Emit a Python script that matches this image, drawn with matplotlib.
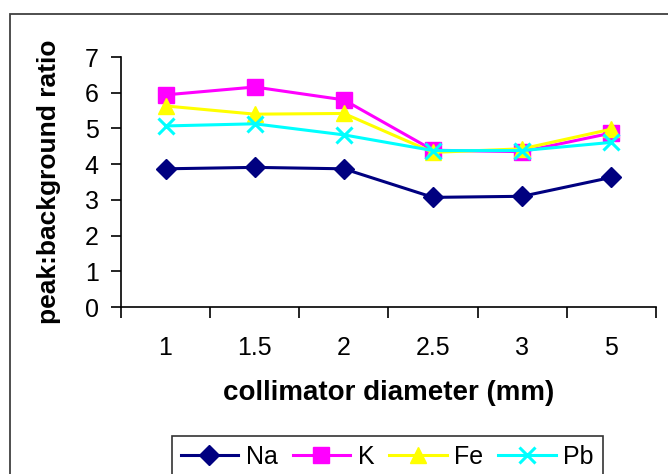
import numpy as np
import matplotlib
matplotlib.use("Agg")
import matplotlib.pyplot as plt
from matplotlib.patches import Rectangle

plt.rcParams['font.family'] = ['Liberation Sans', 'DejaVu Sans']

# collimator diameters (mm) and peak:background ratios per element
diameters = ["1", "1.5", "2", "2.5", "3", "5"]
na = [3.87, 3.91, 3.87, 3.07, 3.10, 3.63]
k = [5.94, 6.16, 5.80, 4.39, 4.35, 4.87]
fe = [5.63, 5.40, 5.42, 4.33, 4.43, 4.98]
pb = [5.07, 5.13, 4.82, 4.38, 4.38, 4.61]

x = np.arange(len(diameters))

fig = plt.figure(figsize=(6.68, 4.74), dpi=100)
ax = fig.add_axes([0.1811, 0.3523, 0.8009, 0.5274])

# outer chart frame (runs off the right and bottom edges)
fig.patches.append(Rectangle((10 / 668, -0.2), 1.2, 1.2 - 14 / 474,
                             transform=fig.transFigure, fill=False,
                             edgecolor="#404040", linewidth=1.3))

ax.plot(x, na, color="#000080", lw=2.2, marker="D", ms=10, label="Na")
ax.plot(x, k, color="#FF00FF", lw=2.2, marker="s", ms=11, label="K")
ax.plot(x, fe, color="#FFFF00", lw=2.2, marker="^", ms=11, label="Fe")
ax.plot(x, pb, color="#00FFFF", lw=2.2, marker="x", ms=11, mew=2.2, label="Pb")

ax.set_xlim(-0.5, len(diameters) - 0.5)
ax.set_ylim(0, 7)
ax.set_yticks(range(0, 8))

# tick marks between categories, labels at category centres
ax.set_xticks(np.arange(-0.5, len(diameters), 1.0))
ax.set_xticklabels([])
ax.set_xticks(x, minor=True)
ax.set_xticklabels(diameters, minor=True)
ax.tick_params(axis="x", which="minor", length=0, pad=21, labelsize=18)
ax.tick_params(axis="x", which="major", length=8, width=1.2)
ax.tick_params(axis="y", length=7, width=1.2, pad=9, labelsize=18)

for side in ("top", "right"):
    ax.spines[side].set_visible(False)
for side in ("left", "bottom"):
    ax.spines[side].set_linewidth(1.2)

ax.set_ylabel("peak:background ratio", fontsize=19, fontweight="bold", labelpad=17)
ax.set_xlabel("collimator diameter (mm)", fontsize=20, fontweight="bold", labelpad=14)

leg = fig.legend(loc="upper left", bbox_to_anchor=(172 / 668, 1 - 436 / 474),
                 ncol=4, fontsize=18, frameon=True, fancybox=False,
                 edgecolor="black", borderaxespad=0, handlelength=2.3,
                 handletextpad=0.3, columnspacing=0.6, borderpad=0.35)
leg.get_frame().set_linewidth(1.2)

fig.savefig("out.png", dpi=100)
